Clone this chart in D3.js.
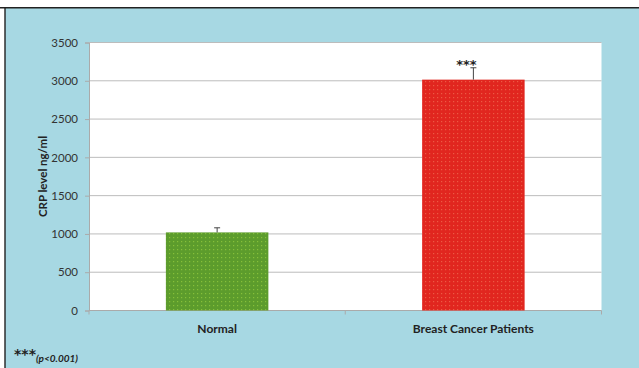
<!DOCTYPE html>
<html>
<head>
<meta charset="utf-8">
<script src="https://cdn.jsdelivr.net/npm/d3@7"></script>
<style>
  html, body { margin: 0; padding: 0; background: #fff; }
  svg { display: block; }
</style>
</head>
<body>
<svg id="chart" width="639" height="368"></svg>
<script>
// CRP level by group (ng/ml), mean with upper error
const categories = ["Normal", "Breast Cancer Patients"];
const means = [1020, 3015];
const errors = [60, 155];
const significance = ["", "***"];
const yTicks = [0, 500, 1000, 1500, 2000, 2500, 3000, 3500];

const svg = d3.select("#chart");
const W = 639, H = 368;
const plot = { left: 89, right: 601.5, top: 42.5, bottom: 310.5 };

// panel background with dark frame on top and left
svg.append("rect").attr("x", 5).attr("y", 8).attr("width", W - 5).attr("height", H - 8)
  .attr("fill", "#a7d8e3");
svg.append("line").attr("x1", 0).attr("x2", W).attr("y1", 7.8).attr("y2", 7.8)
  .attr("stroke", "#222").attr("stroke-width", 1.6);
svg.append("line").attr("x1", 5).attr("x2", 5).attr("y1", 7).attr("y2", H)
  .attr("stroke", "#222").attr("stroke-width", 1.4);

// dotted fills
const defs = svg.append("defs");
function dotPattern(id, base, dot) {
  const p = defs.append("pattern").attr("id", id).attr("patternUnits", "userSpaceOnUse")
    .attr("width", 4).attr("height", 4);
  p.append("rect").attr("width", 4).attr("height", 4).attr("fill", base);
  p.append("rect").attr("x", 1).attr("y", 1).attr("width", 1.2).attr("height", 1.2).attr("fill", dot);
}
dotPattern("dotGreen", "#5c9c2c", "#86c03a");
dotPattern("dotRed", "#e1261f", "#ec5a44");
const fills = ["url(#dotGreen)", "url(#dotRed)"];

// plot area
svg.append("rect").attr("x", plot.left).attr("y", plot.top)
  .attr("width", plot.right - plot.left).attr("height", plot.bottom - plot.top)
  .attr("fill", "#ffffff");

const x = d3.scaleBand().domain(categories).range([plot.left, plot.right])
  .paddingInner(0.6).paddingOuter(0.3);
const y = d3.scaleLinear().domain([0, 3500]).range([plot.bottom, plot.top]);

// gridlines
svg.append("g").selectAll("line").data(yTicks.filter(d => d > 0)).join("line")
  .attr("x1", plot.left).attr("x2", plot.right)
  .attr("y1", d => y(d)).attr("y2", d => y(d))
  .attr("stroke", "#bcbcbc").attr("stroke-width", 1);

// y axis
const yAxis = svg.append("g").attr("transform", `translate(${plot.left},0)`)
  .call(d3.axisLeft(y).tickValues(yTicks).tickSize(4).tickPadding(7).tickFormat(d3.format("d")));
yAxis.select(".domain").attr("stroke", "#aaaaaa");
yAxis.selectAll(".tick line").attr("stroke", "#aaaaaa");
yAxis.selectAll(".tick text").attr("fill", "#333").attr("font-family", "Lato, 'Open Sans', sans-serif")
  .attr("font-size", 11.5);

// x axis with boundary ticks
const xAxisG = svg.append("g");
xAxisG.append("line").attr("x1", plot.left).attr("x2", plot.right)
  .attr("y1", plot.bottom).attr("y2", plot.bottom).attr("stroke", "#aaaaaa");
const step = x.step();
const boundaries = [plot.left, plot.left + step, plot.left + 2 * step];
xAxisG.selectAll("line.b").data(boundaries).join("line").attr("class", "b")
  .attr("x1", d => d).attr("x2", d => d)
  .attr("y1", plot.bottom).attr("y2", plot.bottom + 4).attr("stroke", "#aaaaaa");
xAxisG.selectAll("text").data(categories).join("text")
  .attr("x", d => x(d) + x.bandwidth() / 2).attr("y", 333)
  .attr("text-anchor", "middle").attr("fill", "#222")
  .attr("font-family", "Lato, 'Open Sans', sans-serif").attr("font-weight", "bold").attr("font-size", 12)
  .text(d => d);

// bars
svg.append("g").selectAll("rect").data(categories).join("rect")
  .attr("x", d => x(d)).attr("width", x.bandwidth())
  .attr("y", (d, i) => y(means[i])).attr("height", (d, i) => y(0) - y(means[i]))
  .attr("fill", (d, i) => fills[i]);

// upper error bars
const eb = svg.append("g").attr("stroke", "#444").attr("stroke-width", 1);
categories.forEach((c, i) => {
  const cx = x(c) + x.bandwidth() / 2;
  eb.append("line").attr("x1", cx).attr("x2", cx)
    .attr("y1", y(means[i])).attr("y2", y(means[i] + errors[i]));
  eb.append("line").attr("x1", cx - 3).attr("x2", cx + 3)
    .attr("y1", y(means[i] + errors[i])).attr("y2", y(means[i] + errors[i]));
});

// significance marks
svg.append("g").selectAll("text").data(categories).join("text")
  .attr("x", d => x(d) + x.bandwidth() / 2 - 7)
  .attr("y", (d, i) => y(means[i] + errors[i]) + 1.5)
  .attr("text-anchor", "middle").attr("fill", "#222")
  .attr("font-family", "'DejaVu Sans', sans-serif").attr("font-weight", "bold").attr("font-size", 13)
  .text((d, i) => significance[i]);

// y axis title
svg.append("text")
  .attr("transform", `translate(47,${(plot.top + plot.bottom) / 2}) rotate(-90)`)
  .attr("text-anchor", "middle").attr("fill", "#222")
  .attr("font-family", "Lato, 'Open Sans', sans-serif").attr("font-weight", "bold").attr("font-size", 11.5)
  .text("CRP level ng/ml");

// footnote
const fn = svg.append("text").attr("x", 14).attr("y", 359)
  .attr("fill", "#222").attr("font-family", "Lato, 'Open Sans', sans-serif")
  .attr("font-weight", "bold").attr("font-style", "italic");
fn.append("tspan").attr("font-size", 14).attr("font-family", "'DejaVu Sans', sans-serif").text("***");
fn.append("tspan").attr("font-size", 10).attr("dy", 3).text("(p<0.001)");
</script>
</body>
</html>
